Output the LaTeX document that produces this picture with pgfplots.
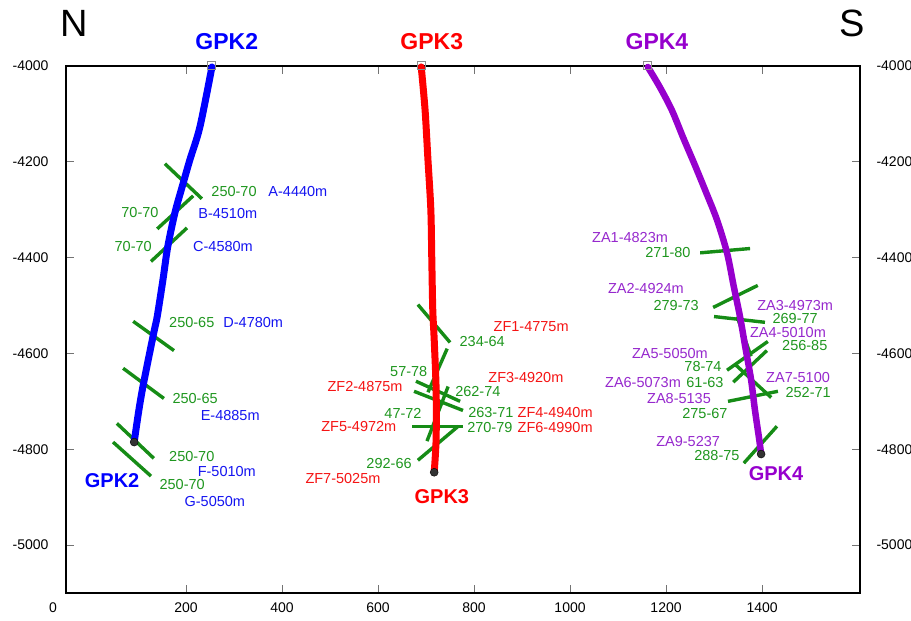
\documentclass[border=0pt]{standalone}
\usepackage{fontspec}
\setmainfont{Liberation Sans}
\usepackage{pgfplots}
\pgfplotsset{compat=1.18}

\definecolor{wellblue}{RGB}{0,0,255}
\definecolor{wellred}{RGB}{255,0,0}
\definecolor{wellpurple}{RGB}{150,0,205}
\definecolor{faultgreen}{RGB}{22,140,22}
\definecolor{labgreen}{RGB}{30,150,30}
\definecolor{labblue}{RGB}{20,20,240}
\definecolor{labred}{RGB}{245,20,20}
\definecolor{labpurple}{RGB}{150,40,205}

\newcommand{\ticksize}{\fontsize{14}{16}\selectfont}
\newcommand{\labsize}{\fontsize{14.5}{16}\selectfont}
\newcommand{\wellbig}{\fontsize{23}{26}\selectfont\bfseries}
\newcommand{\wellsmall}{\fontsize{20}{23}\selectfont\bfseries}

% one fracture trace: two end points
\newcommand{\fault}[4]{\addplot[faultgreen, line width=3.4pt] coordinates {(#1,#2) (#3,#4)};}

\pgfplotsset{
  sectionframe/.style={
    scale only axis, width=794pt, height=527pt,
    xmin=-50, xmax=1604, ymin=-5100, ymax=-4000,
    tick align=inside, major tick length=8pt,
    ytick={-5000,-4800,-4600,-4400,-4200,-4000},
    yticklabels={-5000,-4800,-4600,-4400,-4200,-4000},
    ticklabel style={font=\ticksize},
  }
}

\begin{document}
\begin{tikzpicture}
\begin{axis}[
  sectionframe,
  clip=false,
  axis line style={line width=2.6pt, black},
  tick style={line width=0.8pt, black!55},
  xtick={200,400,600,800,1000,1200,1400},
  xticklabels={200,400,600,800,1000,1200,1400},
  xticklabel style={yshift=-6pt},
  yticklabel style={xshift=-14pt},
]
\coordinate (bl) at (rel axis cs:0,0);
\coordinate (tr) at (rel axis cs:1,1);

% ---- fracture traces, GPK2
\fault{156}{-4204}{233}{-4277}
\fault{140}{-4340}{215}{-4271}
\fault{127}{-4408}{202}{-4338}
\fault{90}{-4533}{175}{-4594}
\fault{69}{-4631}{154}{-4694}
\fault{56}{-4746}{133}{-4819}
\fault{48}{-4785}{127}{-4856}
% ---- fracture traces, GPK3
\fault{683}{-4498}{750}{-4577}
\fault{744}{-4590}{704}{-4681}
\fault{679}{-4658}{771}{-4700}
\fault{675}{-4679}{777}{-4719}
\fault{746}{-4669}{702}{-4783}
\fault{671}{-4752}{777}{-4752}
\fault{767}{-4752}{683}{-4823}
% ---- fracture traces, GPK4
\fault{1271}{-4390}{1375}{-4381}
\fault{1298}{-4504}{1391}{-4458}
\fault{1300}{-4523}{1406}{-4535}
\fault{1348}{-4523}{1377}{-4606}
\fault{1327}{-4635}{1412}{-4575}
\fault{1340}{-4660}{1410}{-4594}
\fault{1344}{-4623}{1419}{-4692}
\fault{1329}{-4700}{1433}{-4679}
\fault{1362}{-4829}{1431}{-4752}

% ---- well trajectories
\addplot[wellblue, line width=7pt, line cap=round, smooth, tension=0.5] coordinates {
 (254,-4002) (229,-4127) (208,-4196) (192,-4252) (177,-4306) (162,-4377)
 (152,-4446) (140,-4523) (133,-4556) (112,-4660) (102,-4717) (92,-4785)};
\addplot[wellred, line width=7pt, line cap=round, smooth, tension=0.5] coordinates {
 (690,-4002) (698,-4092) (704,-4196) (710,-4300) (712,-4404) (714,-4508)
 (717,-4571) (721,-4675) (721,-4779) (717,-4848)};
\addplot[wellpurple, line width=6.5pt, line cap=round, smooth, tension=0.5] coordinates {
 (1162,-4002) (1187,-4044) (1212,-4092) (1235,-4148) (1258,-4202) (1281,-4258)
 (1306,-4321) (1327,-4390) (1341,-4460) (1354,-4523) (1366,-4592) (1377,-4654)
 (1385,-4717) (1394,-4779) (1398,-4810)};

% well heads and bottoms
\addplot[only marks, mark=square, mark size=4pt, black!45, line width=1pt]
  coordinates {(254,-4000) (690,-4000) (1162,-4000)};
\addplot[only marks, mark=*, mark size=4pt, black, fill=black!80]
  coordinates {(92,-4785) (717,-4848) (1398,-4810)};

% ---- labels, GPK2
\begin{scope}[every node/.style={font=\labsize, inner sep=0pt}]
\node[labgreen] at (300,-4262) {250-70};
\node[labblue]  at (433,-4262) {A-4440m};
\node[labgreen] at (104,-4306) {70-70};
\node[labblue]  at (287,-4308) {B-4510m};
\node[labgreen] at (90,-4377) {70-70};
\node[labblue]  at (277,-4377) {C-4580m};
\node[labgreen] at (212,-4535) {250-65};
\node[labblue]  at (340,-4535) {D-4780m};
\node[labgreen] at (219,-4694) {250-65};
\node[labblue]  at (292,-4729) {E-4885m};
\node[labgreen] at (212,-4815) {250-70};
\node[labblue]  at (285,-4846) {F-5010m};
\node[labgreen] at (192,-4873) {250-70};
\node[labblue]  at (260,-4908) {G-5050m};
% ---- labels, GPK3
\node[labred]   at (919,-4544) {ZF1-4775m};
\node[labgreen] at (817,-4575) {234-64};
\node[labgreen] at (664,-4637) {57-78};
\node[labred]   at (573,-4669) {ZF2-4875m};
\node[labred]   at (908,-4650) {ZF3-4920m};
\node[labgreen] at (808,-4679) {262-74};
\node[labgreen] at (652,-4725) {47-72};
\node[labgreen] at (835,-4723) {263-71};
\node[labred]   at (969,-4723) {ZF4-4940m};
\node[labred]   at (560,-4752) {ZF5-4972m};
\node[labgreen] at (833,-4754) {270-79};
\node[labred]   at (969,-4754) {ZF6-4990m};
\node[labgreen] at (623,-4829) {292-66};
\node[labred]   at (527,-4860) {ZF7-5025m};
% ---- labels, GPK4
\node[labpurple] at (1125,-4358) {ZA1-4823m};
\node[labgreen]  at (1204,-4390) {271-80};
\node[labpurple] at (1158,-4465) {ZA2-4924m};
\node[labgreen]  at (1221,-4500) {279-73};
\node[labpurple] at (1469,-4500) {ZA3-4973m};
\node[labgreen]  at (1469,-4527) {269-77};
\node[labpurple] at (1454,-4556) {ZA4-5010m};
\node[labgreen]  at (1489,-4583) {256-85};
\node[labpurple] at (1208,-4600) {ZA5-5050m};
\node[labgreen]  at (1277,-4627) {78-74};
\node[labpurple] at (1152,-4660) {ZA6-5073m};
\node[labgreen]  at (1281,-4660) {61-63};
\node[labpurple] at (1475,-4650) {ZA7-5100};
\node[labgreen]  at (1496,-4681) {252-71};
\node[labpurple] at (1227,-4694) {ZA8-5135};
\node[labgreen]  at (1281,-4725) {275-67};
\node[labpurple] at (1246,-4783) {ZA9-5237};
\node[labgreen]  at (1306,-4812) {288-75};
\end{scope}

% well names
\node[wellblue, font=\wellbig]     at (285,-3950) {GPK2};
\node[wellred, font=\wellbig]      at (712,-3950) {GPK3};
\node[wellpurple, font=\wellbig]   at (1181,-3950) {GPK4};
\node[wellblue, font=\wellsmall]   at (46,-4865) {GPK2};
\node[wellred, font=\wellsmall]    at (733,-4898) {GPK3};
\node[wellpurple, font=\wellsmall] at (1429,-4850) {GPK4};

% orientation
\node[font=\fontsize{38}{40}\selectfont] at (-32,-3912) {N};
\node[font=\fontsize{38}{40}\selectfont] at (1587,-3912) {S};

% origin label of the distance scale
\node[font=\ticksize, anchor=north, yshift=-6.5pt] at (-77,-5100) {0};
\end{axis}

% tick labels on the right-hand side
\begin{axis}[
  sectionframe,
  hide x axis,
  axis line style={draw=none},
  ytick style={draw=none},
  ytick pos=right, yticklabel pos=right,
  yticklabel style={xshift=13pt},
]
\addplot[draw=none] coordinates {(0,-4500)};
\end{axis}

\pgfresetboundingbox
\useasboundingbox ([xshift=-66pt,yshift=-28pt]bl) rectangle ([xshift=51pt,yshift=66pt]tr);
\end{tikzpicture}
\end{document}
